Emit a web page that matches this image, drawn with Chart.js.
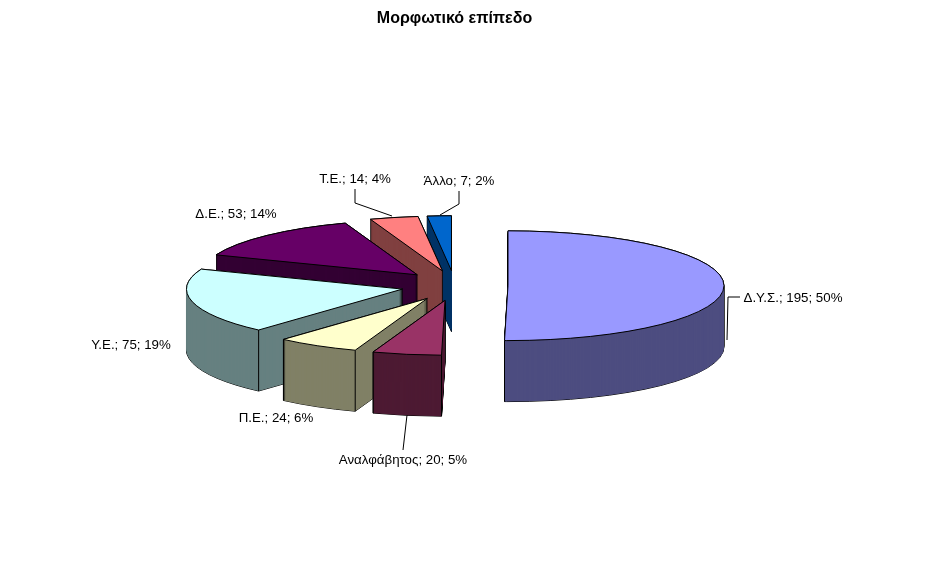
<!DOCTYPE html>
<html>
<head>
<meta charset="utf-8">
<title>Μορφωτικό επίπεδο</title>
<script src="https://cdn.jsdelivr.net/npm/chart.js@4/dist/chart.umd.min.js"></script>
<style>
  html, body { margin: 0; padding: 0; background: #fff; }
  canvas { display: block; }
</style>
</head>
<body>
<canvas id="chart" width="937" height="587"></canvas>
<script>
const categories = ["Δ.Υ.Σ.", "Αναλφάβητος", "Π.Ε.", "Υ.Ε.", "Δ.Ε.", "Τ.Ε.", "Άλλο"];
const counts = [195, 20, 24, 75, 53, 14, 7];
const percents = [50, 5, 6, 19, 14, 4, 2];

const topColors = ["#9999FF", "#993366", "#FFFFCC", "#CCFFFF", "#660066", "#FF8080", "#0066CC"];
const wallColors = ["#4D4D80", "#4D1A33", "#808066", "#668080", "#330033", "#804040", "#003366"];

// the 3d look: tilt of the disc, height of the walls, how far slices are pulled out
const TILT = 0.254;
const DEPTH = 61;
const EXPLODE = 53.5;
const EXPLODE_TILT = 0.28;

// text centres and leader lines of the data labels, in page pixels
const labelCentres = [[793, 298], [403, 460], [276, 418], [131, 345], [236, 214], [355, 179], [459, 181]];
const leaders = [
  [[740, 297], [728, 297], [727, 340]],
  [[407, 415], [403, 450]],
  null,
  null,
  null,
  [[355, 189], [355, 203], [392, 216]],
  [[459, 191], [459, 204], [440, 215]],
];

function withOptions(arc, extra, draw) {
  const saved = arc.options;
  arc.options = Object.assign(Object.create(saved), extra);
  draw();
  arc.options = saved;
}

function drawSlice(ctx, arc, index) {
  const mid = (arc.startAngle + arc.endAngle) / 2;
  const x = arc.x + EXPLODE * Math.cos(mid);
  const y = arc.y + EXPLODE * EXPLODE_TILT * Math.sin(mid);
  const r = arc.outerRadius;

  const fillAt = (color, drop) => {
    ctx.save();
    ctx.translate(x, y + drop);
    ctx.scale(1, TILT);
    ctx.translate(-arc.x, -arc.y);
    withOptions(arc, { backgroundColor: color, borderWidth: 0 }, () => arc.draw(ctx));
    ctx.restore();
  };
  const outlineAt = (drop) => {
    ctx.beginPath();
    ctx.moveTo(x, y + drop);
    ctx.ellipse(x, y + drop, r, r * TILT, 0, arc.startAngle, arc.endAngle);
    ctx.closePath();
    ctx.stroke();
  };

  ctx.strokeStyle = "#000";
  ctx.lineWidth = 1;
  for (let d = DEPTH; d >= 0; d--) outlineAt(d);
  for (let d = DEPTH; d >= 0; d--) fillAt(wallColors[index], d);

  // upright edge where a rim corner faces the viewer
  ctx.beginPath();
  [arc.startAngle, arc.endAngle].forEach((a) => {
    if (Math.sin(a) <= 0) return;
    const cx = x + r * Math.cos(a);
    const cy = y + r * TILT * Math.sin(a);
    ctx.moveTo(cx, cy);
    ctx.lineTo(cx, cy + DEPTH);
  });
  ctx.stroke();

  fillAt(topColors[index], 0);
  outlineAt(0);
}

const pie3d = {
  id: "pie3d",
  beforeDatasetsDraw(chart) {
    const ctx = chart.ctx;
    const arcs = chart.getDatasetMeta(0).data;
    for (let i = arcs.length - 1; i >= 0; i--) drawSlice(ctx, arcs[i], i);
    return false;
  },
  afterDraw(chart) {
    const ctx = chart.ctx;
    ctx.save();
    ctx.strokeStyle = "#000";
    ctx.lineWidth = 1;
    leaders.forEach((line) => {
      if (!line) return;
      ctx.beginPath();
      line.forEach(([x, y], i) => (i ? ctx.lineTo(x, y) : ctx.moveTo(x, y)));
      ctx.stroke();
    });
    ctx.fillStyle = "#000";
    ctx.font = "13.3px 'Liberation Sans'";
    ctx.textAlign = "center";
    ctx.textBaseline = "middle";
    categories.forEach((name, i) => {
      const text = name + "; " + counts[i] + "; " + percents[i] + "%";
      ctx.fillText(text, labelCentres[i][0], labelCentres[i][1]);
    });
    ctx.restore();
  },
};

new Chart(document.getElementById("chart"), {
  type: "pie",
  data: {
    labels: categories,
    datasets: [{ data: counts, backgroundColor: topColors, borderWidth: 0 }],
  },
  plugins: [pie3d],
  options: {
    responsive: false,
    animation: false,
    events: [],
    radius: 216,
    layout: { padding: { left: 0, right: 28, top: 0, bottom: 44 } },
    plugins: {
      legend: { display: false },
      tooltip: { enabled: false },
      title: {
        display: true,
        text: "Μορφωτικό επίπεδο",
        color: "#000",
        font: { family: "'Liberation Sans'", size: 16, weight: "bold" },
        padding: { top: 9, bottom: 0 },
      },
    },
  },
});
</script>
</body>
</html>
